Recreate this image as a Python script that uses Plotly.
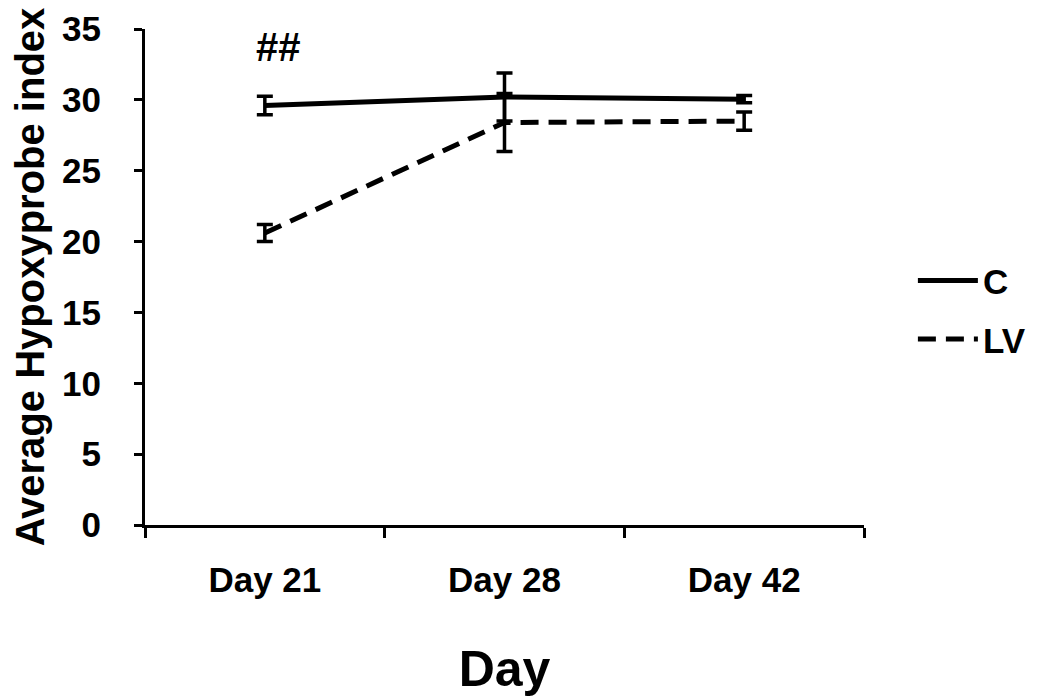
import plotly.graph_objects as go

days = ["Day 21", "Day 28", "Day 42"]
c_vals = [29.6, 30.2, 30.05]
c_err = [0.65, 1.7, 0.25]
lv_vals = [20.6, 28.4, 28.5]
lv_err = [0.6, 2.05, 0.65]
y_ticks = [0, 5, 10, 15, 20, 25, 30, 35]
sig_label = "##"
sig_y = 33.7

FONT = "Liberation Sans, Arial, sans-serif"

fig = go.Figure()
fig.add_trace(go.Scatter(
    x=days, y=c_vals, name="C", mode="lines", legendgroup="c",
    line=dict(color="black", width=5),
    error_y=dict(type="data", array=c_err, visible=True, color="black", thickness=3.5, width=8),
))
fig.add_trace(go.Scatter(
    x=days, y=lv_vals, name="LV", mode="lines", legendgroup="lv",
    line=dict(color="black", width=5, dash="18px,10px"),
    error_y=dict(type="data", array=lv_err, visible=True, color="black", thickness=3.5, width=8),
))

fig.add_annotation(x=days[0], y=sig_y, text="<b>" + sig_label + "</b>", showarrow=False,
                   xanchor="left", xshift=-11,
                   font=dict(family=FONT, size=40, color="black"))

fig.update_layout(
    width=1050, height=698,
    paper_bgcolor="white", plot_bgcolor="white",
    margin=dict(l=137, r=194, t=21, b=181),
    font=dict(family=FONT, size=35, color="black", weight="bold"),
    showlegend=True,
    legend=dict(x=1.068, y=0.552, xanchor="left", yanchor="top",
                font=dict(family=FONT, size=35, color="black", weight="bold"),
                traceorder="grouped", tracegroupgap=10, itemwidth=60, bgcolor="rgba(0,0,0,0)"),
    xaxis=dict(
        type="category", showline=True, linecolor="black", linewidth=3,
        ticks="outside", tickson="boundaries", ticklen=10, tickwidth=3, tickcolor="black",
        showgrid=False, zeroline=False, automargin=False, ticklabelstandoff=22,
        tickfont=dict(family=FONT, size=35, color="black", weight="bold"),
        title=dict(text="Day", font=dict(family=FONT, size=50, color="black", weight="bold"), standoff=53),
        range=[-0.5, 2.5],
    ),
    yaxis=dict(
        range=[0, 35], tickvals=y_ticks, showline=True, linecolor="black", linewidth=3,
        ticks="outside", ticklen=8, tickwidth=3, tickcolor="black",
        showgrid=False, zeroline=False, ticklabelstandoff=26, automargin=False,
        tickfont=dict(family=FONT, size=35, color="black", weight="bold"),
        title=dict(text="Average Hypoxyprobe index", font=dict(family=FONT, size=40, color="black", weight="bold"), standoff=24),
    ),
)

fig.write_html("out.html")
